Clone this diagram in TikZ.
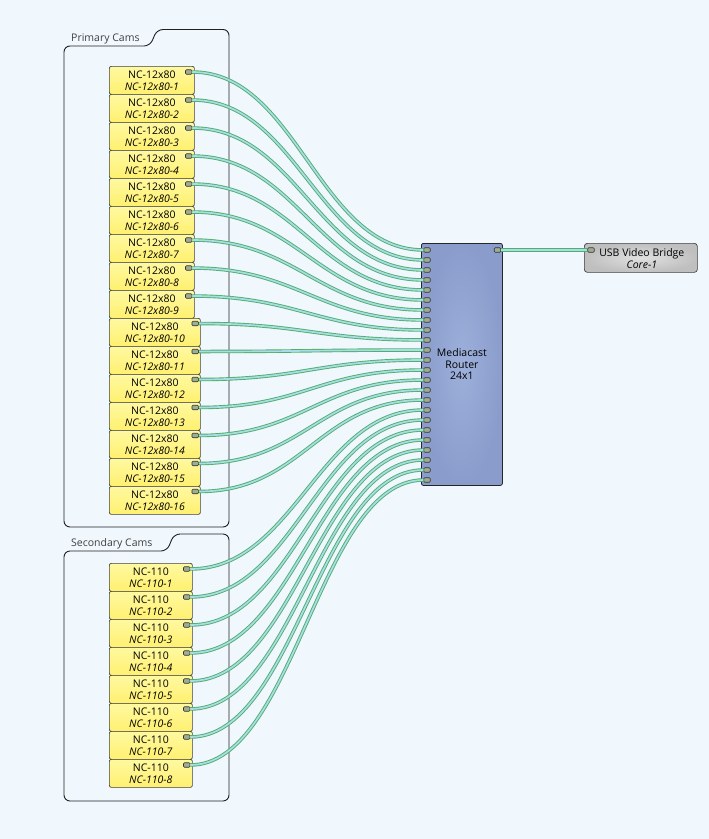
\documentclass[tikz,border=0pt]{standalone}
\usepackage{fontspec}
\setmainfont{Open Sans}
\usetikzlibrary{calc}
\definecolor{bgc}{HTML}{F0F7FD}
\definecolor{camfill}{HTML}{FFF070}
\definecolor{camtop}{HTML}{FFF9A0}
\definecolor{rtin}{HTML}{9DB0DB}
\definecolor{rtout}{HTML}{8A9CCB}
\definecolor{cabout}{HTML}{4FAF6E}
\definecolor{cabin}{HTML}{A9DCE4}
\definecolor{portfill}{HTML}{9FAE92}
\definecolor{grpline}{HTML}{202020}
\definecolor{lbl}{HTML}{404040}
\tikzset{
  grp/.style={draw=grpline, line width=0.9pt, rounded corners=6pt},
  grplabel/.style={anchor=base west, font=\fontsize{10.5}{12}\selectfont, text=lbl, inner sep=0pt},
  cam/.style={draw=black!75, line width=0.7pt, rounded corners=2pt, top color=camtop, bottom color=camfill,
    minimum height=28pt, inner sep=0pt, align=center, anchor=north west,
    font=\fontsize{10.5}{12}\selectfont},
  port/.style={draw=black!80, line width=0.6pt, fill=portfill, rounded corners=1pt,
    minimum width=6.5pt, minimum height=4.5pt, inner sep=0pt},
  cable/.style={draw=cabout, line width=0.9pt, double=cabin, double distance=1.7pt},
}
\begin{document}
\begin{tikzpicture}[x=1pt,y=-1pt]
\fill[bgc] (0,0) rectangle (709,839);
\useasboundingbox (0,0) rectangle (709,839);
% groups
\draw[grp] (64,527) -- (64,46) -- (150,46) -- (157,29.5) -- (229,29.5) -- (229,527) -- cycle;
\node[grplabel] (glp) at (71,41.5) {Primary Cams};
\draw[grp] (64,801) -- (64,551) -- (167,551) -- (174,534) -- (229,534) -- (229,801) -- cycle;
\node[grplabel] (gls) at (71,546) {Secondary Cams};
% primary cams
\foreach \i in {1,...,9}{
  \node[cam, minimum width=85pt] (cam\i) at (109,{66+28*(\i-1)}) {NC-12x80\\\textit{NC-12x80-\i}};
  \node[port] (cp\i) at ($(cam\i.north east)+(-6,6)$) {};
}
\foreach \i in {10,...,16}{
  \node[cam, minimum width=91pt] (cam\i) at (109,{66+28*(\i-1)}) {NC-12x80\\\textit{NC-12x80-\i}};
  \node[port] (cp\i) at ($(cam\i.north east)+(-5.5,5.5)$) {};
}
% secondary cams
\foreach \j in {1,...,8}{
  \node[cam, minimum width=83pt] (scam\j) at (109,{563+28*(\j-1)}) {NC-110\\\textit{NC-110-\j}};
  \node[port] (sp\j) at ($(scam\j.north east)+(-6,6)$) {};
}
% router
\node[draw=black!85, line width=0.8pt, rounded corners=2pt, inner color=rtin, outer color=rtout,
  minimum width=81pt, minimum height=242pt, anchor=north west, inner sep=0pt, align=center,
  font=\fontsize{10.5}{11.5}\selectfont] (router) at (421,243) {Mediacast\\Router\\24x1};
\foreach \i in {1,...,24}{
  \node[port] (rp\i) at (427,{250+10*(\i-1)}) {};
}
\node[port] (rout) at (497.5,250) {};
% usb bridge
\node[draw=black!75, line width=0.7pt, rounded corners=3pt, inner color=black!12, outer color=black!25,
  minimum width=113pt, minimum height=29pt, anchor=north west, inner sep=0pt] (usb) at (584,243) {};
\node[font=\fontsize{10.5}{12}\selectfont, align=center, inner sep=0pt] (usbt) at ($(usb.center)+(1,0.5)$) {USB Video Bridge\\\textit{Core-1}};
\node[port] (up) at (591,250) {};
% cables
\foreach \i in {1,...,16}{
  \draw[cable] (cp\i.east) .. controls +(105,0) and +(-105,0) .. (rp\i.west);
}
\foreach \j in {1,...,8}{
  \pgfmathtruncatemacro{\k}{16+\j}
  \draw[cable] (sp\j.east) .. controls +(105,0) and +(-105,0) .. (rp\k.west);
}
\draw[cable] (rout.east) -- (up.west);
\end{tikzpicture}
\end{document}
